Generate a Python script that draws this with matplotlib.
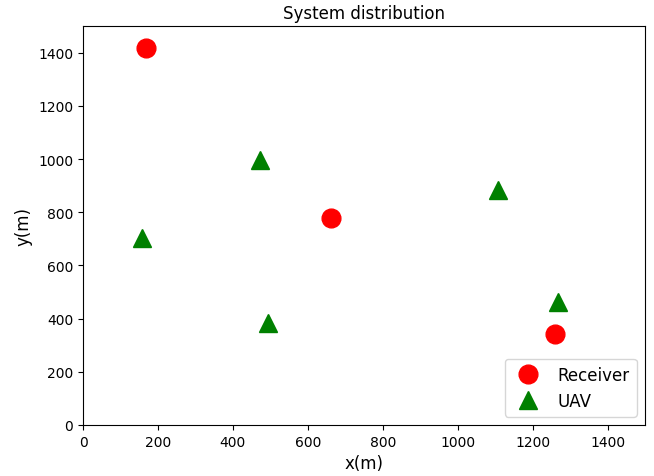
import matplotlib
matplotlib.use('Agg')
import matplotlib.pyplot as plt

# posicoes
receiver_x = [168, 661, 1259]
receiver_y = [1419, 779, 342]

uav_x = [157, 472, 493, 1107, 1267]
uav_y = [702, 995, 383, 882, 462]

fig = plt.figure(figsize=(6.54, 4.77), dpi=100)
ax = fig.add_axes([83 / 654, 51 / 477, 562 / 654, 399 / 477])

ax.plot(receiver_x, receiver_y, 'o', color='red', markersize=13.5, label='Receiver')
ax.plot(uav_x, uav_y, '^', color='green', markersize=13.5, label='UAV')

ax.set_xlim(0, 1500)
ax.set_ylim(0, 1500)
ax.set_xticks(range(0, 1401, 200))
ax.set_yticks(range(0, 1401, 200))
ax.set_xlabel('x(m)', fontsize=12)
ax.set_ylabel('y(m)', fontsize=12)
ax.set_title('System distribution', fontsize=12)
ax.legend(loc='lower right', fontsize=12)

fig.savefig('out.png', dpi=100)
